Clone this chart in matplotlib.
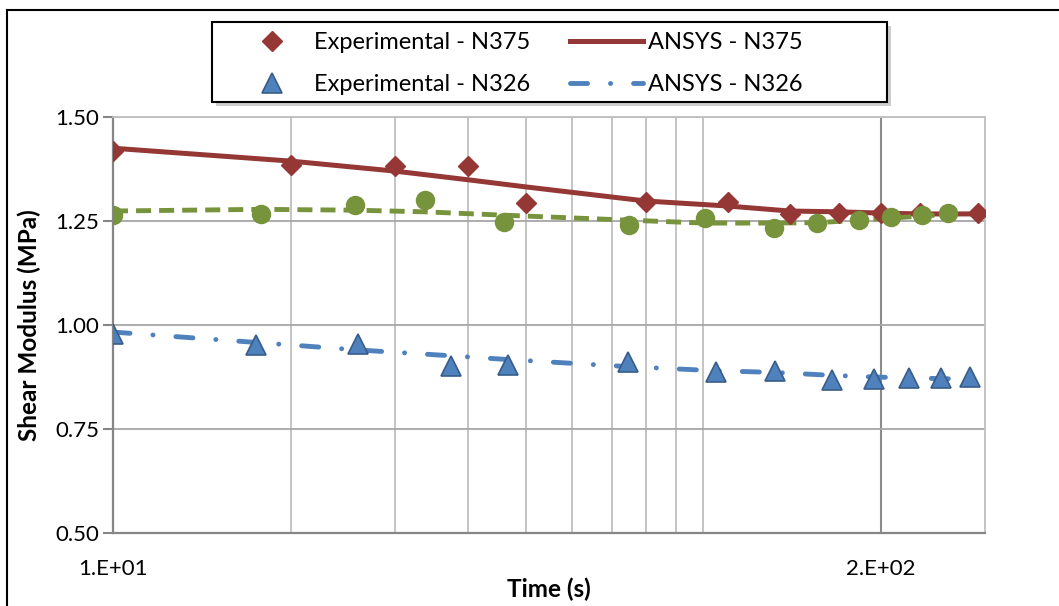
import matplotlib
matplotlib.use('Agg')
import matplotlib.pyplot as plt
from matplotlib.lines import Line2D
from matplotlib.patches import Rectangle
from matplotlib.ticker import NullFormatter, FixedLocator

# datos
time_n375 = [10, 20, 30, 40, 50, 80, 110, 140, 170, 200, 233, 292]
exp_n375 = [1.418, 1.385, 1.382, 1.382, 1.293, 1.296, 1.296, 1.267, 1.269, 1.269, 1.269, 1.269]
ansys_n375 = [1.425, 1.394, 1.370, 1.349, 1.332, 1.298, 1.286, 1.274, 1.272, 1.269, 1.267, 1.267]

time_green = [10, 17.8, 25.7, 33.8, 45.9, 74.7, 100.6, 131.7, 156, 183.6, 208, 235, 260]
exp_green = [1.264, 1.267, 1.288, 1.300, 1.248, 1.240, 1.257, 1.233, 1.245, 1.252, 1.260, 1.264, 1.269]
ansys_green = [1.274, 1.278, 1.276, 1.272, 1.264, 1.252, 1.245, 1.245, 1.246, 1.252, 1.257, 1.262, 1.266]

time_n326 = [10, 17.5, 26, 37.4, 46.6, 74.5, 105, 132, 165, 194.5, 223, 253, 283]
exp_n326 = [0.978, 0.952, 0.955, 0.901, 0.904, 0.911, 0.887, 0.889, 0.868, 0.870, 0.873, 0.873, 0.875]
ansys_n326 = [0.983, 0.958, 0.940, 0.926, 0.917, 0.900, 0.890, 0.886, 0.879, 0.875, 0.873, 0.871, 0.870]

y_ticks = [0.50, 0.75, 1.00, 1.25, 1.50]
x_major = [10, 200]
x_major_labels = ['1.E+01', '2.E+02']
x_minor = [20, 30, 40, 50, 60, 70, 80, 90, 100]

RED = '#953735'
BLUE = '#4F81BD'
BLUE_EDGE = '#385D8A'
GREEN = '#77933C'
DASH_DOT = (0, (12.3, 16.5, 0.1, 16.5))
DASHED = (0, (10.8, 5.8))

W, H = 1059, 606

plt.rcParams['font.family'] = ['Lato', 'DejaVu Sans']
plt.rcParams['lines.scale_dashes'] = False


def fx(px):
    return px / W


def fy(py):
    return 1 - py / H


def main():
    fig = plt.figure(figsize=(W / 100, H / 100), dpi=100)
    ax = fig.add_axes([fx(113), fy(533), fx(985) - fx(113), fy(117) - fy(533)])

    # series
    ax.plot(time_n375, ansys_n375, color=RED, lw=3.6, zorder=3, solid_capstyle='round')
    ax.plot(time_n375, exp_n375, ls='none', marker='D', ms=10, color=RED, zorder=4)
    ax.plot(time_n326, ansys_n326, color=BLUE, lw=3.5, ls=DASH_DOT,
            dash_capstyle='round', zorder=3)
    ax.plot(time_n326, exp_n326, ls='none', marker='^', ms=14, color=BLUE,
            markeredgecolor=BLUE_EDGE, markeredgewidth=1.2, zorder=4)
    ax.plot(time_green, ansys_green, color=GREEN, lw=3.5, ls=DASHED, zorder=3)
    ax.plot(time_green, exp_green, ls='none', marker='o', ms=13, color=GREEN, zorder=5)

    # ejes
    ax.set_xscale('log')
    ax.set_xlim(10, 300)
    ax.set_ylim(0.5, 1.5)
    ax.set_yticks(y_ticks)
    ax.set_yticklabels([f'{v:.2f}' for v in y_ticks])
    ax.xaxis.set_major_locator(FixedLocator(x_major))
    ax.set_xticklabels(x_major_labels)
    ax.xaxis.set_minor_locator(FixedLocator(x_minor))
    ax.xaxis.set_minor_formatter(NullFormatter())
    ax.tick_params(axis='x', which='both', length=0, pad=19, labelsize=16)
    ax.tick_params(axis='y', length=7, width=1.5, color='#868686', pad=3, labelsize=16)

    ax.grid(True, which='major', axis='y', color='#A6A6A6', lw=1.3)
    ax.grid(True, which='minor', axis='x', color='#BFBFBF', lw=1.3)
    ax.axvline(200, color='#8C8C8C', lw=1.5, zorder=1)

    for side in ['top', 'right']:
        ax.spines[side].set_color('#BFBFBF')
        ax.spines[side].set_linewidth(1.3)
    for side in ['left', 'bottom']:
        ax.spines[side].set_color('#868686')
        ax.spines[side].set_linewidth(1.6)

    ax.set_ylabel('Shear Modulus (MPa)', fontsize=17.5, fontweight='bold')
    ax.set_xlabel('Time (s)', fontsize=17.5, fontweight='bold')
    ax.yaxis.set_label_coords(-0.083, 0.5)
    ax.xaxis.set_label_coords(0.5, -0.106)

    # caja de la leyenda con sombra
    fig.add_artist(Rectangle((fx(216), fy(106)), fx(887) - fx(212), fy(22) - fy(102),
                             transform=fig.transFigure, facecolor='0.72', edgecolor='none',
                             alpha=0.7, zorder=5))
    fig.add_artist(Rectangle((fx(212), fy(102)), fx(887) - fx(212), fy(22) - fy(102),
                             transform=fig.transFigure, facecolor='white', edgecolor='black',
                             lw=1.5, zorder=6))

    handles = [
        Line2D([], [], ls='none', marker='D', ms=10, color=RED),
        Line2D([], [], ls='none', marker='^', ms=14, color=BLUE,
               markeredgecolor=BLUE_EDGE, markeredgewidth=1.2),
        Line2D([], [], color=RED, lw=3.6),
        Line2D([], [], color=BLUE, lw=3.5, ls=DASH_DOT, dash_capstyle='round'),
    ]
    labels = ['Experimental - N375', 'Experimental - N326', 'ANSYS - N375', 'ANSYS - N326']
    leg = fig.legend(handles, labels, ncol=2, loc='upper left',
                     bbox_to_anchor=(fx(236), fy(32)),
                     fontsize=17, frameon=False, borderpad=0, borderaxespad=0,
                     handlelength=3.09, handletextpad=0.2, columnspacing=1.7,
                     labelspacing=0.9)
    leg.set_zorder(7)

    # borde exterior del gráfico
    fig.add_artist(Line2D([fx(7), 1], [fy(10), fy(10)], color='black', lw=1.5))
    fig.add_artist(Line2D([fx(7), fx(7)], [0, fy(10)], color='black', lw=1.5))

    fig.savefig('out.png', dpi=100)
    plt.close(fig)


if __name__ == '__main__':
    main()
